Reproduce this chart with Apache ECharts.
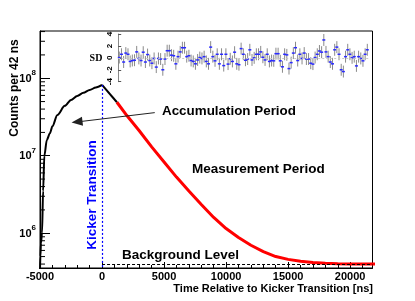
<!DOCTYPE html>
<html><head><meta charset="utf-8">
<script src="https://cdn.jsdelivr.net/npm/echarts@6/dist/echarts.min.js"></script>
<style>html,body{margin:0;padding:0;background:#fff}#c{width:415px;height:301px}</style>
</head><body><div id="c"></div>
<script>
// ---- data ----
const xTickLabels = [-5000, 0, 5000, 10000, 15000, 20000];
const yTickLabels = [1e6, 1e7, 1e8];
const accumTime   = [-5000, -4970, -4920, -4840, -4750, -4650, -4450, -4200, -4000, -3600, -3000, -2500, -2000, -1500, -1000, -500, 0];
const accumCounts = [3.4e5, 5.0e5, 7.5e5, 1.0e6, 3.5e6, 1.0e7, 1.6e7, 1.95e7, 2.4e7, 3.35e7, 4.4e7, 5.25e7, 5.9e7, 6.5e7, 7.05e7, 7.6e7, 8.2e7];
const decayTime   = [0, 1200, 2000, 3000, 4000, 5000, 6000, 7000, 8000, 9000, 10000, 11000, 12000, 13000, 14000, 15000, 16000, 17000, 18000, 19000, 20000, 21000, 22000];
const decayCounts = [8.2e7, 4.9e7, 3.3e7, 2.1e7, 1.3e7, 8.3e6, 5.3e6, 3.5e6, 2.35e6, 1.6e6, 1.15e6, 8.8e5, 7.0e5, 5.8e5, 5.0e5, 4.6e5, 4.35e5, 4.2e5, 4.1e5, 4.05e5, 4.02e5, 4.0e5, 4.0e5];
const measurementStart = 1200;
const kickerTime = 0;
const peakCounts = 8.2e7;
const backgroundLevel = 4.0e5;
const minorYTicks = [4e5,5e5,6e5,7e5,8e5,9e5, 2e6,3e6,4e6,5e6,6e6,7e6,8e6,9e6, 2e7,3e7,4e7,5e7,6e7,7e7,8e7,9e7, 2e8,3e8,4e8];
const arrowTip  = [-2016, 2.73e7];
const arrowTail = [4250, 3.6e7];
const residualTickLabels = [-4, -2, 0, 2, 4];
const residualError = 1;
const residuals = [0.05,0.6,-0.7,0.8,0.6,-0.6,-0.45,-0.4,1.0,-0.1,-0.45,0.95,-0.7,0.55,-0.45,-0.9,-0.1,-1.55,-0.1,-0.2,
  -2.0,-0.2,1.2,1.2,0.45,0.35,-1.0,0.2,1.0,1.7,1.7,0.2,0.35,-0.45,-0.6,-1.0,-0.35,0.05,-0.1,0.2,
  -0.6,-1.0,1.8,0.2,-0.5,0.6,-1.0,0.6,-1.3,0.6,-1.05,-0.15,-0.6,0.95,-1.0,-1.15,1.55,0.6,-0.4,-0.2,
  1.35,-0.35,0,0.6,0.6,1.0,0.1,-0.35,0.6,-0.6,-0.45,-0.5,0.7,0.7,-0.5,-1.5,0.6,0.5,-1.8,-0.8,
  0.8,1.7,-0.45,0.6,-0.1,0.8,-0.2,-0.2,-0.9,-1.05,0.05,0.6,1.15,0.95,3.0,1.0,0.2,-0.7,-1.0,1.35,
  1.8,0.6,-2.0,-2.3,0.2,1.35,0.6,0,0.2,-1.35,0.2,-0.1,-0.5,0.6,1.35];

const X_MIN = -5000, X_MAX = 21800, Y_MIN = 3.56e5, Y_MAX = 4.07e8;
const FONT = "'Liberation Sans', Arial, Helvetica, sans-serif";

const chart = echarts.init(document.getElementById('c'), null, {renderer: 'canvas'});

const accumData = accumTime.map((t, i) => [t, accumCounts[i]]);
const headData = decayTime.map((t, i) => [t, decayCounts[i]]).filter(d => d[0] <= measurementStart);
const measData = decayTime.map((t, i) => [t, decayCounts[i]]).filter(d => d[0] >= measurementStart);
const residualCats = residuals.map((v, i) => String(i));

const isPow10 = v => { const l = Math.log10(v); return Math.abs(l - Math.round(l)) < 1e-6; };

chart.setOption({
  animation: false,
  backgroundColor: '#fff',
  grid: [
    {left: 40, right: 42.5, top: 31, bottom: 33, show: true, borderColor: '#000', borderWidth: 1, backgroundColor: 'transparent'},
    {left: 118.2, right: 46.6, top: 34, height: 47.7}
  ],
  xAxis: [
    {type: 'value', gridIndex: 0, min: X_MIN, max: X_MAX, interval: xTickLabels[1] - xTickLabels[0], position: 'bottom',
     axisLine: {show: true, onZero: false, lineStyle: {color: '#000'}}, splitLine: {show: false},
     axisTick: {show: true, inside: true, length: 6, lineStyle: {color: '#000'}},
     axisLabel: {show: true, showMaxLabel: false, margin: 3, color: '#000', fontFamily: FONT, fontWeight: 'bold', fontSize: 11,
       formatter: v => xTickLabels.indexOf(v) >= 0 ? String(v) : ''}},
    {type: 'value', gridIndex: 0, min: X_MIN, max: X_MAX, interval: 1000, position: 'bottom',
     axisLine: {show: false, onZero: false}, splitLine: {show: false}, axisLabel: {show: false},
     axisTick: {show: true, inside: true, length: 3, lineStyle: {color: '#000'}}},
    {type: 'category', gridIndex: 1, data: residualCats, boundaryGap: true, show: false, axisLine: {onZero: false}}
  ],
  yAxis: [
    {type: 'log', gridIndex: 0, min: Y_MIN, max: Y_MAX, logBase: 10,
     axisLine: {show: true, onZero: false, lineStyle: {color: '#000'}}, splitLine: {show: false},
     axisTick: {show: true, inside: true, length: 10, lineStyle: {color: '#000'}},
     axisLabel: {show: true, showMinLabel: false, showMaxLabel: false, margin: 4, color: '#000',
       formatter: v => (isPow10(v) && yTickLabels.some(t => Math.abs(t - v) / t < 1e-6)) ? '{b|10}{s|' + Math.round(Math.log10(v)) + '}' : '',
       rich: {
         b: {fontFamily: FONT, fontWeight: 'bold', fontSize: 11, lineHeight: 12, verticalAlign: 'bottom', color: '#000'},
         s: {fontFamily: FONT, fontWeight: 'bold', fontSize: 8, lineHeight: 8, padding: [0, 0, 7, 0], verticalAlign: 'bottom', color: '#000'}
       }}},
    {type: 'value', gridIndex: 1, min: -4, max: 4, interval: 2,
     axisLine: {show: true, onZero: false, lineStyle: {color: '#888'}}, splitLine: {show: false},
     axisTick: {show: true, inside: true, length: 3, lineStyle: {color: '#555'}},
     axisLabel: {show: true, margin: 4, rotate: 90, color: '#000', fontFamily: FONT, fontWeight: 'bold', fontSize: 8,
       formatter: v => residualTickLabels.indexOf(v) >= 0 ? String(v) : ''}}
  ],
  series: [
    {type: 'line', name: 'accumulation', xAxisIndex: 0, yAxisIndex: 0, data: accumData, symbol: 'none', clip: true,
     smooth: 0.3, smoothMonotone: 'x',
     lineStyle: {color: '#000', width: 2}, z: 3,
     markLine: {silent: true, symbol: ['none', 'none'], label: {show: false}, animation: false,
       data: [
         [{coord: [kickerTime, peakCounts], lineStyle: {color: '#0000ff', type: [2, 2], width: 1.2}}, {coord: [kickerTime, Y_MIN]}],
         [{coord: [kickerTime, backgroundLevel], lineStyle: {color: '#000', type: [3, 2], width: 1}}, {coord: [X_MAX, backgroundLevel]}],
         [{coord: arrowTip, symbol: 'triangle', symbolSize: [9, 11], lineStyle: {color: '#222', type: 'solid', width: 1}}, {coord: arrowTail, symbol: 'none'}]
       ]}},
    {type: 'line', name: 'head', xAxisIndex: 0, yAxisIndex: 0, data: headData, symbol: 'none', clip: true,
     lineStyle: {color: '#000', width: 2}, z: 3},
    {type: 'line', name: 'measurement', xAxisIndex: 0, yAxisIndex: 0, data: measData, symbol: 'none', clip: true,
     lineStyle: {color: '#ff0000', width: 3}, z: 3},
    {type: 'custom', name: 'minorTicks', xAxisIndex: 0, yAxisIndex: 0, silent: true, clip: true,
     data: minorYTicks.map(v => [X_MIN, v]), encode: {x: 0, y: 1},
     renderItem: (params, api) => {
       const p = api.coord([api.value(0), api.value(1)]);
       return {type: 'line', shape: {x1: p[0], y1: p[1], x2: p[0] + 5, y2: p[1]}, style: {stroke: '#000', lineWidth: 1}};
     }},
    {type: 'custom', name: 'residuals', xAxisIndex: 2, yAxisIndex: 1, silent: true,
     data: residuals.map((v, i) => [i, v]), encode: {x: 0, y: 1},
     renderItem: (params, api) => {
       const i = api.value(0), v = api.value(1);
       const a = api.coord([i, v + residualError]);
       const b = api.coord([i, v - residualError]);
       const c = api.coord([i, v]);
       return {type: 'group', children: [
         {type: 'line', shape: {x1: a[0], y1: a[1], x2: b[0], y2: b[1]}, style: {stroke: '#8a8a8a', lineWidth: 1}},
         {type: 'rect', shape: {x: c[0] - 1.5, y: c[1] - 0.75, width: 3, height: 1.5}, style: {fill: '#2a2aff'}}
       ]};
     },
     markLine: {silent: true, symbol: ['none', 'none'], label: {show: false},
       data: [{yAxis: 0}], lineStyle: {color: '#c8c8c8', type: [2, 2], width: 1}}}
  ],
  graphic: [
    {type: 'text', x: 15, y: 88, rotation: Math.PI / 2,
     style: {text: 'Counts per 42 ns', font: 'bold 12px ' + FONT, fill: '#000', textAlign: 'center', textVerticalAlign: 'middle'}},
    {type: 'text', x: 373, y: 289,
     style: {text: 'Time Relative to Kicker Transition [ns]', font: 'bold 11px ' + FONT, fill: '#000', textAlign: 'right', textVerticalAlign: 'middle'}},
    {type: 'text', x: 162, y: 111.7,
     style: {text: 'Accumulation Period', font: 'bold 13.4px ' + FONT, fill: '#000', textAlign: 'left', textVerticalAlign: 'middle'}},
    {type: 'text', x: 192, y: 169,
     style: {text: 'Measurement Period', font: 'bold 13.5px ' + FONT, fill: '#000', textAlign: 'left', textVerticalAlign: 'middle'}},
    {type: 'text', x: 122, y: 255,
     style: {text: 'Background Level', font: 'bold 13.5px ' + FONT, fill: '#000', textAlign: 'left', textVerticalAlign: 'middle'}},
    {type: 'text', x: 92.3, y: 195, rotation: Math.PI / 2,
     style: {text: 'Kicker Transition', font: 'bold 13.5px ' + FONT, fill: '#0000ff', textAlign: 'center', textVerticalAlign: 'middle'}},
    {type: 'text', x: 96, y: 58,
     style: {text: 'SD', font: 'bold 10px "Liberation Serif", "Times New Roman", serif', fill: '#000', textAlign: 'center', textVerticalAlign: 'middle'}}
  ]
});
</script>
</body></html>
